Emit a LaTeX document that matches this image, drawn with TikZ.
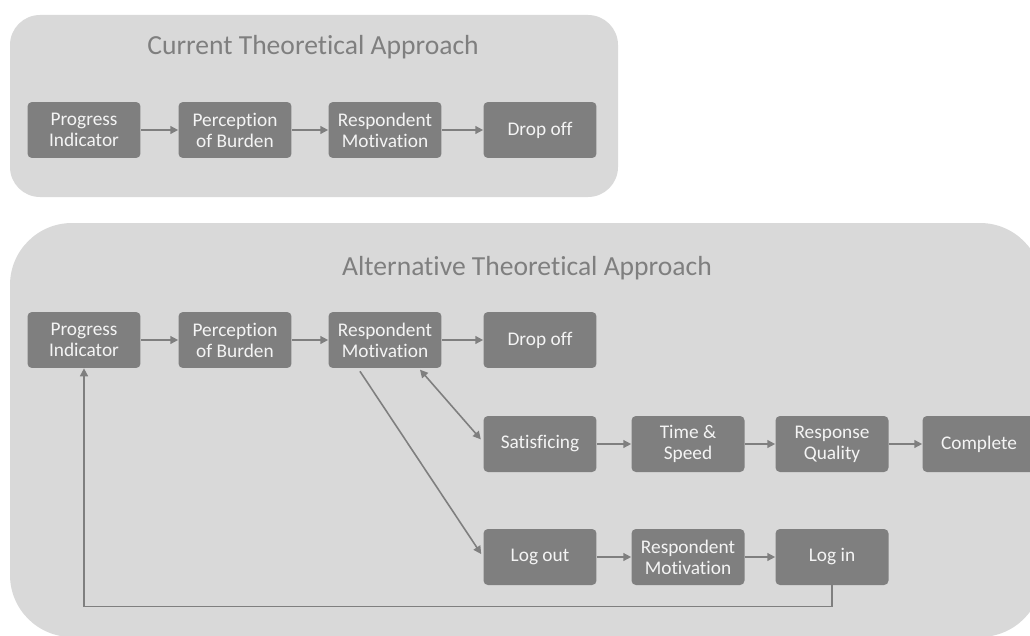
\documentclass[tikz,border=0pt]{standalone}
\usepackage{fontspec}
\setmainfont{Carlito}[Ligatures=NoCommon]
\usetikzlibrary{arrows.meta}
\definecolor{panelgray}{HTML}{D9D9D9}
\definecolor{boxgray}{HTML}{7F7F7F}
\definecolor{textwhite}{HTML}{F4F4F4}

\begin{document}
\begin{tikzpicture}[x=0.02cm,y=-0.02cm,
    box/.style={fill=boxgray,rounded corners=2.5pt,text=textwhite,align=center,inner sep=0pt,
      minimum width=2.26cm,minimum height=1.12cm,font=\fontsize{11}{12}\selectfont},
    heading/.style={text=boxgray,anchor=base,font=\fontsize{15.7}{19}\selectfont},
    tip/.tip={Triangle[length=4.5pt,width=4.5pt]},
    link/.style={draw=boxgray,line width=0.9pt,-tip},
    twoway/.style={link,tip-tip}]
     \useasboundingbox (0,0) rectangle (1030,635);
     \fill[panelgray,rounded corners=0.6cm] (10,15) rectangle (618,197);
     \fill[panelgray,rounded corners=1.24cm] (10,223) rectangle (1042,637);
     \node[heading] (cur) at (313,55) {Current Theoretical Approach};
     \node[heading] (alt) at (527,275) {Alternative Theoretical Approach};

     \node[box] (prog1) at (84,130)  {Progress\\Indicator};
     \node[box] (burd1) at (235,130) {Perception\\of Burden};
     \node[box] (mot1)  at (385,130) {Respondent\\Motivation};
     \node[box] (drop1) at (540,130) {Drop off};
     \draw[link] (prog1) -- (burd1);
     \draw[link] (burd1) -- (mot1);
     \draw[link] (mot1) -- (drop1);

     \node[box] (prog2) at (84,340)  {Progress\\Indicator};
     \node[box] (burd2) at (235,340) {Perception\\of Burden};
     \node[box] (mot2)  at (385,340) {Respondent\\Motivation};
     \node[box] (drop2) at (540,340) {Drop off};
     \node[box] (sat)   at (540,444) {Satisficing};
     \node[box] (time)  at (688,444) {Time \&\\Speed};
     \node[box] (qual)  at (832,444) {Response\\Quality};
     \node[box] (comp)  at (979,444) {Complete};
     \node[box] (lout)  at (540,557) {Log out};
     \node[box] (mot3)  at (688,557) {Respondent\\Motivation};
     \node[box] (lin)   at (832,557) {Log in};
     \draw[link] (prog2) -- (burd2);
     \draw[link] (burd2) -- (mot2);
     \draw[link] (mot2) -- (drop2);
     \draw[link] (sat) -- (time);
     \draw[link] (time) -- (qual);
     \draw[link] (qual) -- (comp);
     \draw[link] (lout) -- (mot3);
     \draw[link] (mot3) -- (lin);
     \draw[twoway,shorten <=1pt,shorten >=2pt] ([xshift=-0.46cm]mot2.south east) -- ([yshift=0.04cm]sat.west);
     \draw[link,shorten <=2pt,shorten >=2pt] ([xshift=-0.54cm]mot2.south) -- (lout.west);
     \draw[link] (lin.south) -- ++(0,21) -| (prog2.south);
    \end{tikzpicture}
\end{document}
